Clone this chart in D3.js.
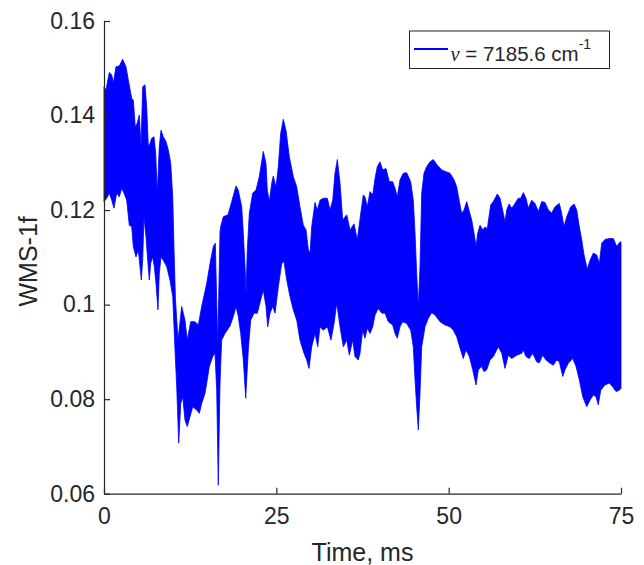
<!DOCTYPE html>
<html>
<head>
<meta charset="utf-8">
<script src="https://cdn.jsdelivr.net/npm/d3@7"></script>
<style>
  body { margin: 0; background: #fff; }
  svg text { font-family: "Liberation Sans", Arial, Helvetica, sans-serif; fill: #262626; }
</style>
</head>
<body>
<div id="chart"></div>
<script>
// upper edge of the WMS-1f band: [time ms, value]
var upperEnvelope = [
  [0, 0.1461], [0.29, 0.1454], [0.77, 0.1491], [1.12, 0.1486], [1.35, 0.1469], [1.74, 0.1503],
  [2.22, 0.1505], [2.71, 0.1519], [3.19, 0.1503], [3.53, 0.1475], [4.02, 0.1436], [4.25, 0.1433],
  [4.54, 0.1376], [4.83, 0.1384], [5.12, 0.1401], [5.37, 0.1334], [5.61, 0.1461], [5.95, 0.1465],
  [6.19, 0.1419], [6.43, 0.1334], [6.67, 0.1341], [6.92, 0.1352], [7.25, 0.1355], [7.50, 0.1320],
  [7.73, 0.1236], [8.02, 0.1334], [8.27, 0.1369], [8.60, 0.1355], [8.99, 0.1345], [9.33, 0.1327],
  [9.68, 0.1299], [9.97, 0.1228], [10.16, 0.1116], [10.37, 0.1010], [10.74, 0.0925], [11.27, 0.0996],
  [11.75, 0.0967], [12.08, 0.0925], [12.58, 0.0964], [13.20, 0.0964], [13.68, 0.0957], [14.17, 0.0996],
  [14.90, 0.1045], [15.38, 0.1087], [15.86, 0.1123], [16.15, 0.1130], [16.50, 0.0915], [16.83, 0.1154],
  [16.93, 0.1165], [17.31, 0.1186], [17.99, 0.1190], [18.53, 0.1218], [19.15, 0.1251], [19.48, 0.1242],
  [19.98, 0.1207], [20.21, 0.1151], [20.46, 0.1080], [20.60, 0.1024], [20.79, 0.1116], [21.08, 0.1193],
  [21.57, 0.1236], [22.05, 0.1242], [22.53, 0.1271], [23.11, 0.1324], [23.50, 0.1299], [23.69, 0.1242],
  [23.98, 0.1218], [24.33, 0.1257], [24.56, 0.1272], [24.95, 0.1249], [25.29, 0.1292], [25.63, 0.1362],
  [26.01, 0.1392], [26.40, 0.1369], [26.88, 0.1313], [27.46, 0.1271], [27.96, 0.1249], [28.43, 0.1207],
  [28.91, 0.1168], [29.31, 0.1158], [29.64, 0.1116], [29.89, 0.1109], [30.13, 0.1165], [30.61, 0.1216],
  [30.94, 0.1200], [31.34, 0.1221], [31.81, 0.1225], [32.40, 0.1225], [32.79, 0.1200], [33.18, 0.1221],
  [33.51, 0.1278], [33.85, 0.1307], [34.24, 0.1257], [34.63, 0.1179], [35.21, 0.1190], [35.69, 0.1158],
  [36.27, 0.1171], [36.75, 0.1137], [37.24, 0.1193], [37.62, 0.1232], [37.86, 0.1228], [38.20, 0.1207],
  [38.59, 0.1239], [38.98, 0.1232], [39.32, 0.1267], [39.65, 0.1292], [40.04, 0.1302], [40.43, 0.1285],
  [40.91, 0.1288], [41.39, 0.1260], [41.88, 0.1260], [42.22, 0.1246], [42.55, 0.1228], [42.94, 0.1264],
  [43.42, 0.1278], [43.91, 0.1279], [44.49, 0.1260], [44.87, 0.1221], [45.12, 0.1151], [45.36, 0.1066],
  [45.60, 0.0996], [45.84, 0.1080], [46.09, 0.1236], [46.42, 0.1278], [46.82, 0.1292], [47.29, 0.1302],
  [47.77, 0.1307], [48.35, 0.1295], [48.99, 0.1285], [49.62, 0.1281], [50.20, 0.1278], [50.78, 0.1264],
  [51.17, 0.1249], [51.55, 0.1218], [51.89, 0.1193], [52.23, 0.1200], [52.62, 0.1218], [53.00, 0.1197],
  [53.34, 0.1179], [53.68, 0.1151], [53.97, 0.1123], [54.21, 0.1151], [54.55, 0.1168], [54.94, 0.1158],
  [55.27, 0.1164], [55.61, 0.1161], [56.10, 0.1211], [56.48, 0.1218], [57.06, 0.1234], [57.45, 0.1225],
  [57.93, 0.1193], [58.17, 0.1175], [58.42, 0.1200], [58.76, 0.1213], [59.15, 0.1204], [59.48, 0.1211],
  [60.10, 0.1225], [60.45, 0.1225], [60.83, 0.1237], [61.22, 0.1225], [61.55, 0.1204], [62.05, 0.1221],
  [62.53, 0.1214], [63.01, 0.1197], [63.50, 0.1218], [63.98, 0.1216], [64.46, 0.1200], [64.95, 0.1194],
  [65.43, 0.1207], [66.05, 0.1214], [66.40, 0.1193], [66.73, 0.1165], [67.13, 0.1186], [67.71, 0.1207],
  [68.19, 0.1213], [68.58, 0.1200], [68.95, 0.1165], [69.30, 0.1137], [69.64, 0.1105], [70.11, 0.1075],
  [70.51, 0.1094], [70.99, 0.1109], [71.48, 0.1105], [71.86, 0.1087], [72.20, 0.1130], [72.68, 0.1138],
  [73.41, 0.1140], [73.89, 0.1140], [74.38, 0.1123], [74.76, 0.1131], [75.00, 0.1133]
];

// lower edge of the band
var lowerEnvelope = [
  [0, 0.1218], [0.39, 0.1225], [0.77, 0.1236], [1.12, 0.1221], [1.45, 0.1204], [1.84, 0.1236],
  [2.22, 0.1228], [2.57, 0.1246], [2.90, 0.1236], [3.29, 0.1221], [3.67, 0.1168], [4.02, 0.1165],
  [4.25, 0.1123], [4.64, 0.1101], [4.98, 0.1116], [5.22, 0.1080], [5.41, 0.1052], [5.61, 0.1094],
  [5.80, 0.1186], [6.09, 0.1144], [6.34, 0.1094], [6.57, 0.1052], [6.77, 0.1087], [7.07, 0.1101],
  [7.30, 0.1080], [7.54, 0.1045], [7.83, 0.0989], [8.02, 0.1066], [8.27, 0.1101], [8.60, 0.1094],
  [9.10, 0.1080], [9.57, 0.1052], [9.97, 0.1017], [10.30, 0.0904], [10.55, 0.0826], [10.84, 0.0707],
  [11.13, 0.0791], [11.42, 0.0805], [11.75, 0.0756], [12.08, 0.0742], [12.48, 0.0763], [12.87, 0.0784],
  [13.45, 0.0777], [13.83, 0.0770], [14.17, 0.0791], [14.65, 0.0812], [14.90, 0.0834], [15.28, 0.0869],
  [15.77, 0.0890], [16.10, 0.0897], [16.35, 0.0819], [16.58, 0.0618], [16.83, 0.0834], [17.07, 0.0925],
  [17.55, 0.0939], [18.28, 0.0955], [18.76, 0.0975], [19.15, 0.0996], [19.48, 0.0975], [19.83, 0.0939],
  [20.21, 0.0883], [20.56, 0.0802], [20.93, 0.0904], [21.28, 0.0967], [21.76, 0.0982], [22.24, 0.0982],
  [22.73, 0.1010], [23.11, 0.1031], [23.50, 0.0996], [23.75, 0.0953], [24.08, 0.0982], [24.47, 0.0996],
  [24.81, 0.0982], [25.29, 0.1038], [25.78, 0.1087], [26.11, 0.1091], [26.51, 0.1052], [26.98, 0.1017],
  [27.46, 0.0989], [27.96, 0.0967], [28.43, 0.0925], [29.01, 0.0897], [29.41, 0.0883], [29.74, 0.0865],
  [30.13, 0.0911], [30.61, 0.0939], [31.00, 0.0911], [31.34, 0.0953], [31.81, 0.0946], [32.40, 0.0953],
  [32.93, 0.0925], [33.37, 0.0960], [33.76, 0.1003], [34.24, 0.0953], [34.72, 0.0911], [35.21, 0.0925],
  [35.59, 0.0893], [36.08, 0.0925], [36.41, 0.0890], [36.89, 0.0883], [37.14, 0.0897], [37.53, 0.0946],
  [37.86, 0.0929], [38.20, 0.0950], [38.59, 0.0939], [38.98, 0.0953], [39.32, 0.0978], [39.79, 0.0992],
  [40.29, 0.0982], [40.77, 0.0982], [41.24, 0.0964], [41.88, 0.0957], [42.22, 0.0939], [42.55, 0.0929],
  [42.94, 0.0953], [43.33, 0.0964], [43.91, 0.0960], [44.49, 0.0946], [44.87, 0.0911], [45.12, 0.0841],
  [45.36, 0.0784], [45.60, 0.0735], [45.84, 0.0812], [46.09, 0.0911], [46.57, 0.0953], [47.05, 0.0971],
  [47.54, 0.0983], [48.02, 0.0978], [48.74, 0.0964], [49.47, 0.0957], [50.20, 0.0953], [50.67, 0.0946],
  [51.17, 0.0932], [51.65, 0.0908], [52.12, 0.0886], [52.52, 0.0904], [53.00, 0.0890], [53.49, 0.0862],
  [53.97, 0.0830], [54.30, 0.0862], [54.79, 0.0869], [55.13, 0.0858], [55.52, 0.0862], [56.00, 0.0883],
  [56.48, 0.0890], [57.20, 0.0911], [57.70, 0.0897], [58.17, 0.0865], [58.65, 0.0893], [59.15, 0.0886],
  [59.87, 0.0893], [60.60, 0.0897], [60.83, 0.0904], [61.22, 0.0890], [61.70, 0.0886], [62.19, 0.0897],
  [62.77, 0.0879], [63.15, 0.0877], [63.64, 0.0893], [64.12, 0.0883], [64.70, 0.0876], [65.18, 0.0872],
  [65.67, 0.0883], [66.05, 0.0879], [66.55, 0.0848], [66.88, 0.0862], [67.36, 0.0876], [68.00, 0.0886],
  [68.48, 0.0869], [68.95, 0.0841], [69.45, 0.0805], [70.03, 0.0784], [70.51, 0.0798], [70.99, 0.0809],
  [71.38, 0.0805], [71.71, 0.0788], [72.06, 0.0819], [72.68, 0.0830], [73.31, 0.0834], [73.80, 0.0826],
  [74.28, 0.0816], [74.76, 0.0819], [75.00, 0.0823]
];

var xTicks = [0, 25, 50, 75];
var yTicks = [0.06, 0.08, 0.1, 0.12, 0.14, 0.16];
var xDomain = [0, 75];
var yDomain = [0.06, 0.16];

(function(){
  var width = 644;
  var height = 565;
  var margin = {top: 21, right: 23, bottom: 71.3, left: 104};
  var blue = "#0000ff";
  var ink = "#262626";

  var svg = d3.select("#chart")
    .append("svg")
      .attr("width", width)
      .attr("height", height);

  var g = svg.append("g").attr("transform", "translate(" + margin.left + "," + margin.top + ")");

  var w = width - margin.left - margin.right;
  var h = height - margin.top - margin.bottom;

  var x = d3.scaleLinear().domain(xDomain).range([0, w]);
  var y = d3.scaleLinear().domain(yDomain).range([h, 0]);

  // band = upper edge left->right, then lower edge back
  var outline = upperEnvelope.concat(lowerEnvelope.slice().reverse());
  var line = d3.line()
    .x(function(d) { return x(d[0]); })
    .y(function(d) { return y(d[1]); });

  g.append("path")
    .attr("d", line(outline) + "Z")
    .attr("fill", blue)
    .attr("stroke", blue)
    .attr("stroke-width", 0.8)
    .attr("stroke-linejoin", "round");

  // axes, ticks pointing inward like matlab
  var xAxis = g.append("g")
    .attr("transform", "translate(0," + h + ")")
    .call(d3.axisBottom(x).tickValues(xTicks).tickSize(-6).tickPadding(10).tickSizeOuter(0));
  var yAxis = g.append("g")
    .call(d3.axisLeft(y).tickValues(yTicks).tickFormat(d3.format("~g")).tickSize(-6).tickPadding(9).tickSizeOuter(0));

  [xAxis, yAxis].forEach(function(a) {
    a.select(".domain").attr("stroke", ink).attr("stroke-width", 1.2);
    a.selectAll(".tick line").attr("stroke", ink).attr("stroke-width", 1.2);
    a.selectAll(".tick text").style("font-size", "23px").attr("fill", ink);
  });
  xAxis.selectAll(".tick text").attr("dy", "0.9em");

  g.append("text")
    .attr("x", w / 2)
    .attr("y", h + 67)
    .attr("text-anchor", "middle")
    .style("font-size", "25px")
    .text("Time, ms");

  g.append("text")
    .attr("transform", "rotate(-90)")
    .attr("x", -h / 2 - 4)
    .attr("y", -67)
    .attr("text-anchor", "middle")
    .style("font-size", "25px")
    .text("WMS-1f");

  // legend
  var leg = svg.append("g").attr("transform", "translate(409.5,31)");
  leg.append("rect")
    .attr("width", 200)
    .attr("height", 37.5)
    .attr("fill", "#fff")
    .attr("stroke", ink)
    .attr("stroke-width", 1);
  leg.append("line")
    .attr("x1", 4.5).attr("x2", 38.5)
    .attr("y1", 18).attr("y2", 18)
    .attr("stroke", blue)
    .attr("stroke-width", 2);
  var lt = leg.append("text")
    .attr("x", 41)
    .attr("y", 30)
    .style("font-size", "20.5px");
  lt.append("tspan").style("font-family", "'Liberation Serif', 'Times New Roman', serif").style("font-style", "italic").text("\u03bd");
  lt.append("tspan").text(" = 7185.6 cm");
  lt.append("tspan").attr("dy", -12).style("font-size", "14px").text("-1");
})();
</script>
</body>
</html>
